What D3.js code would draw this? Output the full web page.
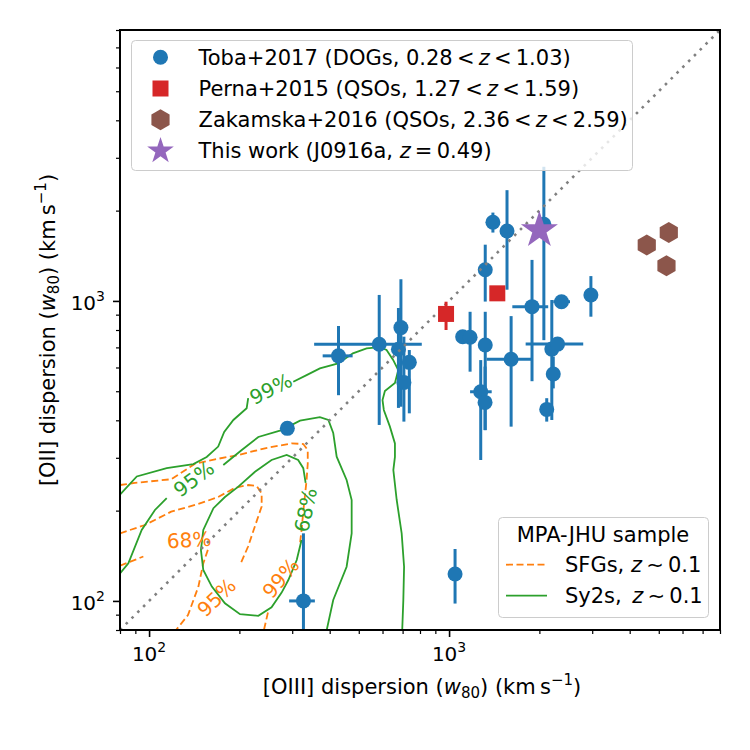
<!DOCTYPE html>
<html>
<head>
<meta charset="utf-8">
<script src="https://cdn.jsdelivr.net/npm/d3@7"></script>
<style>
  body { margin: 0; background: #fff; }
  svg { font-family: "DejaVu Sans", sans-serif; }
</style>
</head>
<body>
<svg id="chart" width="750" height="750"></svg>
<script>
// Toba+2017 DOGs: [OIII] w80 (x) vs [OII] w80 (y), km/s. null = no error bar
const tobaX   = [1400, 1560, 2070, 1320, 1890, 2370, 2970, 1110, 1175, 1320, 1610, 2200, 2300, 2225, 1275, 1318, 2116, 428, 585, 691, 678, 737, 707, 289, 327, 1047];
const tobaY   = [1830, 1710, 1800, 1270, 957, 994, 1047, 760, 757, 713, 639, 691, 718, 571, 498, 459, 435, 656, 717, 815, 690, 624, 535, 376, 100, 123];
const tobaXLo = [null, null, null, 1280, 1625, 2225, null, null, null, null, 1335, null, 1800, null, 1175, null, 2009, 379, 355, null, null, null, null, null, 293, null];
const tobaXHi = [null, null, null, 1370, 2140, 2530, null, null, null, null, 1890, null, 2800, null, 1387, null, 2238, 477, 811, null, null, null, null, null, 357, null];
const tobaYLo = [1690, 1090, 740, 995, 540, null, 886, null, 581, 371, 381, 401, null, 511, 295, 371, 396, 485, 386, 444, 440, 422, 396, null, 50, 98];
const tobaYHi = [1970, 2340, 2800, 1540, 1370, null, 1210, null, 920, 920, 890, 1007, null, 652, 635, 604, 474, 825, 1047, 1181, 947, 686, 760, null, 168, 149];

// Perna+2015 QSOs
const pernaX = [1448, 977];
const pernaY = [1060, 905];
const pernaYLo = [null, 800];
const pernaYHi = [null, 994];

// Zakamska+2016 QSOs
const zakX = [4560, 5400, 5305];
const zakY = [1536, 1690, 1309];

// This work (J0916a)
const thisX = [2000];
const thisY = [1720];

// MPA-JHU contours, each a list of line pieces (gaps where the labels sit)
const sy2s99 = [
  [[80, 226], [91, 260], [114.5, 277], [140.5, 286], [155.6, 302], [170, 327], [178, 366], [191, 401], [211.5, 439], [214, 474]],
  [[302.5, 538], [335, 566], [371, 596], [427, 619], [478, 669], [531, 695], [588, 701], [619, 686], [651, 636], [677, 588],
   [660, 533], [611, 501], [600, 467], [606, 433], [635, 381], [660, 335], [660, 302], [652, 273], [669, 217], [695, 168],
   [708, 130], [704, 101], [698, 80]]
];
const sy2s95 = [
  [[80, 123.5], [85.3, 133.4], [94.5, 172.4], [104.6, 201], [114.5, 220]],
  [[176.8, 284], [203.7, 318.5], [231.3, 352], [276.6, 371], [318.5, 399], [371, 410], [396, 401], [411, 363], [422, 302.5],
   [455.5, 253], [473.5, 217], [473.5, 168], [455.5, 130], [411, 100.7], [391, 80]]
];
const sy2s68 = [
  [[322.3, 159.6], [310.6, 136.9], [291.2, 117.4], [276.6, 106.6], [256, 95.2], [231.3, 89.2], [201, 90.3], [179, 98.2],
   [161.9, 111.6], [151.6, 126.8], [148.9, 147.8], [151.6, 172.4], [163.9, 203.7], [179, 222], [198.4, 240.5], [225.5, 269.6],
   [256, 295], [287.5, 306.5], [314, 295], [326.6, 277], [332.6, 247.5]]
];
const sfg99 = [
  [[80, 243.4], [89.7, 247.5], [118.5, 254.4], [142.3, 286.6], [165.9, 296.5], [198.4, 306.5], [243.4, 322.7], [298.7, 335.2],
   [326.6, 333.4], [338, 318.5], [338, 286.6], [335, 253], [327, 201], [322.3, 172.4], [318.5, 155.6]],
  [[249, 91.5], [241.5, 80]]
];
const sfg95 = [
  [[80, 168], [96.9, 179.1], [118.5, 198.4], [146, 210.5], [170, 222], [193.4, 238.3], [214, 243.4], [228.5, 241.5],
   [237.3, 228.5], [237.3, 206.4], [225.5, 177.8], [214, 152.1], [201, 131.8]]
];
const sfg68 = [
  [[80, 131], [95.7, 140.6]],
  [[157, 148], [151.6, 133.4], [146, 111.6], [134.8, 89.7], [123, 80]]
];

// contour labels: [x, y, text, rotation]
const sy2sLabels = [[254.6, 508.7, "99%", -27], [141, 255, "95%", -37], [333, 201, "68%", -78]];
const sfgLabels = [[135.9, 159.6, "68%", -3], [168, 102.6, "95%", -44], [274.9, 119, "99%", -50]];

const xTicks = [100, 1000];
const yTicks = [100, 1000];

const blue = "#1f77b4", red = "#d62728", brown = "#8c564b", purple = "#9467bd",
      orange = "#ff7f0e", green = "#2ca02c";

const margin = { top: 30, left: 120 };
const size = 600;
const fs = 21;

const svg = d3.select("#chart");
const g = svg.append("g").attr("transform", `translate(${margin.left},${margin.top})`);

const x = d3.scaleLog().domain([80, 8000]).range([0, size]);
const y = d3.scaleLog().domain([80, 8000]).range([size, 0]);

svg.append("defs").append("clipPath").attr("id", "clip")
  .append("rect").attr("width", size).attr("height", size);

const plot = g.append("g").attr("clip-path", "url(#clip)");
const line = d3.line().x((d) => x(d[0])).y((d) => y(d[1]));

function drawContour(pieces, color, dash) {
  plot.append("g").selectAll("path")
    .data(pieces)
    .enter()
    .append("path")
    .attr("d", line)
    .attr("fill", "none")
    .attr("stroke", color)
    .attr("stroke-width", 1.8)
    .attr("stroke-dasharray", dash);
}
[sfg99, sfg95, sfg68].forEach((c) => drawContour(c, orange, "7,3.5"));
[sy2s99, sy2s95, sy2s68].forEach((c) => drawContour(c, green, null));

function drawLabels(labels, color) {
  plot.append("g").selectAll("text")
    .data(labels)
    .enter()
    .append("text")
    .attr("transform", (d) => `translate(${x(d[0])},${y(d[1])}) rotate(${d[3]})`)
    .attr("text-anchor", "middle")
    .attr("dominant-baseline", "central")
    .attr("font-size", 20)
    .attr("fill", color)
    .text((d) => d[2]);
}
drawLabels(sfgLabels, orange);
drawLabels(sy2sLabels, green);

// Toba error bars and points
const toba = tobaX.map((v, i) => ({
  x: v, y: tobaY[i], xlo: tobaXLo[i], xhi: tobaXHi[i], ylo: tobaYLo[i], yhi: tobaYHi[i]
}));
const errG = plot.append("g").attr("stroke", blue).attr("stroke-width", 3);
toba.filter((d) => d.xlo !== null).forEach((d) => {
  errG.append("line").attr("x1", x(d.xlo)).attr("x2", x(d.xhi)).attr("y1", y(d.y)).attr("y2", y(d.y));
});
toba.filter((d) => d.ylo !== null).forEach((d) => {
  errG.append("line").attr("x1", x(d.x)).attr("x2", x(d.x)).attr("y1", y(d.ylo)).attr("y2", y(d.yhi));
});
plot.append("g").selectAll("circle")
  .data(toba)
  .enter()
  .append("circle")
  .attr("cx", (d) => x(d.x))
  .attr("cy", (d) => y(d.y))
  .attr("r", 7.5)
  .attr("fill", blue);

// 1:1 line
plot.append("path")
  .attr("d", line([[80, 80], [8000, 8000]]))
  .attr("stroke", "#808080")
  .attr("stroke-width", 2.6)
  .attr("stroke-dasharray", "2.6,5.6")
  .attr("fill", "none");

// Perna
pernaX.forEach((v, i) => {
  if (pernaYLo[i] !== null) {
    plot.append("line").attr("x1", x(v)).attr("x2", x(v))
      .attr("y1", y(pernaYLo[i])).attr("y2", y(pernaYHi[i]))
      .attr("stroke", red).attr("stroke-width", 3);
  }
});
plot.append("g").selectAll("rect")
  .data(pernaX)
  .enter()
  .append("rect")
  .attr("x", (d) => x(d) - 8)
  .attr("y", (d, i) => y(pernaY[i]) - 8)
  .attr("width", 16)
  .attr("height", 16)
  .attr("fill", red);

function hexPath(r) {
  const pts = d3.range(6).map((k) => {
    const a = Math.PI / 2 + (k * Math.PI) / 3;
    return [r * Math.cos(a), -r * Math.sin(a)];
  });
  return "M" + pts.join("L") + "Z";
}
function starPath(R) {
  const r = R * 0.382;
  const pts = d3.range(10).map((k) => {
    const a = Math.PI / 2 + (k * Math.PI) / 5;
    const rr = k % 2 === 0 ? R : r;
    return [rr * Math.cos(a), -rr * Math.sin(a)];
  });
  return "M" + pts.join("L") + "Z";
}

plot.append("g").selectAll("path")
  .data(zakX)
  .enter()
  .append("path")
  .attr("d", hexPath(10.5))
  .attr("transform", (d, i) => `translate(${x(d)},${y(zakY[i])})`)
  .attr("fill", brown);

plot.append("g").selectAll("path")
  .data(thisX)
  .enter()
  .append("path")
  .attr("d", starPath(19.5))
  .attr("transform", (d, i) => `translate(${x(d)},${y(thisY[i])})`)
  .attr("fill", purple);

// axes
const majorX = d3.axisBottom(x).tickValues(xTicks).tickSize(7).tickFormat("");
const minorVals = [80, 90, 200, 300, 400, 500, 600, 700, 800, 900, 2000, 3000, 4000, 5000, 6000, 7000, 8000];
const minorX = d3.axisBottom(x).tickValues(minorVals).tickSize(4).tickFormat("");
const majorY = d3.axisLeft(y).tickValues(yTicks).tickSize(7).tickFormat("");
const minorY = d3.axisLeft(y).tickValues(minorVals).tickSize(4).tickFormat("");

[majorX, minorX].forEach((a, i) => {
  g.append("g").attr("transform", `translate(0,${size})`).call(a)
    .call((s) => s.select(".domain").remove())
    .selectAll("line").attr("stroke-width", i === 0 ? 1.6 : 1.2);
});
[majorY, minorY].forEach((a, i) => {
  g.append("g").call(a)
    .call((s) => s.select(".domain").remove())
    .selectAll("line").attr("stroke-width", i === 0 ? 1.6 : 1.2);
});

g.append("rect")
  .attr("width", size)
  .attr("height", size)
  .attr("fill", "none")
  .attr("stroke", "#000")
  .attr("stroke-width", 2);

xTicks.forEach((v) => {
  const t = g.append("text").attr("x", x(v)).attr("y", size + 31)
    .attr("text-anchor", "middle").attr("font-size", 20);
  t.append("tspan").text("10");
  t.append("tspan").attr("dy", -9).attr("font-size", 14).text(Math.round(Math.log10(v)));
});
yTicks.forEach((v) => {
  const t = g.append("text").attr("x", -15).attr("y", y(v) + 9)
    .attr("text-anchor", "end").attr("font-size", 20);
  t.append("tspan").text("10");
  t.append("tspan").attr("dy", -9).attr("font-size", 14).text(Math.round(Math.log10(v)));
});

// axis titles
function axisTitle(sel, name) {
  sel.append("tspan").text(name + " dispersion (");
  sel.append("tspan").attr("font-style", "italic").text("w");
  sel.append("tspan").attr("font-size", 15).attr("dy", 4).text("80");
  sel.append("tspan").attr("dy", -4).text(") (km\u2009s");
  sel.append("tspan").attr("font-size", 15).attr("dy", -9).text("\u22121");
  sel.append("tspan").attr("dy", 9).text(")");
}
axisTitle(svg.append("text").attr("x", 422).attr("y", 694)
  .attr("text-anchor", "middle").attr("font-size", fs), "[OIII]");
axisTitle(svg.append("text").attr("transform", "translate(55,330) rotate(-90)")
  .attr("text-anchor", "middle").attr("font-size", fs), "[OII]");

// legend 1
const legend1 = [
  { marker: "circle", color: blue, parts: [["Toba+2017 (DOGs, 0.28\u2009<\u2009", 0], ["z", 1], ["\u2009<\u20091.03)", 0]] },
  { marker: "square", color: red, parts: [["Perna+2015 (QSOs, 1.27\u2009<\u2009", 0], ["z", 1], ["\u2009<\u20091.59)", 0]] },
  { marker: "hex", color: brown, parts: [["Zakamska+2016 (QSOs, 2.36\u2009<\u2009", 0], ["z", 1], ["\u2009<\u20092.59)", 0]] },
  { marker: "star", color: purple, parts: [["This work (J0916a, ", 0], ["z", 1], ["\u2009=\u20090.49)", 0]] }
];
svg.append("rect")
  .attr("x", 131.5).attr("y", 40.5).attr("width", 501).attr("height", 130).attr("rx", 4)
  .attr("fill", "#fff").attr("fill-opacity", 0.8).attr("stroke", "#cccccc").attr("stroke-width", 1);
legend1.forEach((d, i) => {
  const cy = 57.3 + i * 31.2;
  const mk = svg.append("g").attr("transform", `translate(160.5,${cy})`).attr("fill", d.color);
  if (d.marker === "circle") mk.append("circle").attr("r", 7.5);
  if (d.marker === "square") mk.append("rect").attr("x", -8).attr("y", -8).attr("width", 16).attr("height", 16);
  if (d.marker === "hex") mk.append("path").attr("d", hexPath(10.5));
  if (d.marker === "star") mk.append("path").attr("d", starPath(14));
  const t = svg.append("text").attr("x", 198.5).attr("y", cy + 7.5).attr("font-size", fs);
  d.parts.forEach((p) => t.append("tspan").attr("font-style", p[1] ? "italic" : null).text(p[0]));
});

// legend 2
svg.append("rect")
  .attr("x", 498.5).attr("y", 517.5).attr("width", 210).attr("height", 100).attr("rx", 4)
  .attr("fill", "#fff").attr("fill-opacity", 0.8).attr("stroke", "#cccccc").attr("stroke-width", 1);
svg.append("text").attr("x", 603).attr("y", 541.5).attr("text-anchor", "middle")
  .attr("font-size", fs).text("MPA-JHU sample");
const legend2 = [
  { color: orange, dash: "7,3.5", label: "SFGs, " },
  { color: green, dash: null, label: "Sy2s,\u2002" }
];
legend2.forEach((d, i) => {
  const cy = 564.7 + i * 31;
  svg.append("line").attr("x1", 506).attr("x2", 547).attr("y1", cy).attr("y2", cy)
    .attr("stroke", d.color).attr("stroke-width", 1.8).attr("stroke-dasharray", d.dash);
  const t = svg.append("text").attr("x", 565).attr("y", cy + 7.5).attr("font-size", fs);
  t.append("tspan").text(d.label);
  t.append("tspan").attr("font-style", "italic").text("z");
  t.append("tspan").text("\u2009\u223c\u20090.1");
});
</script>
</body>
</html>
